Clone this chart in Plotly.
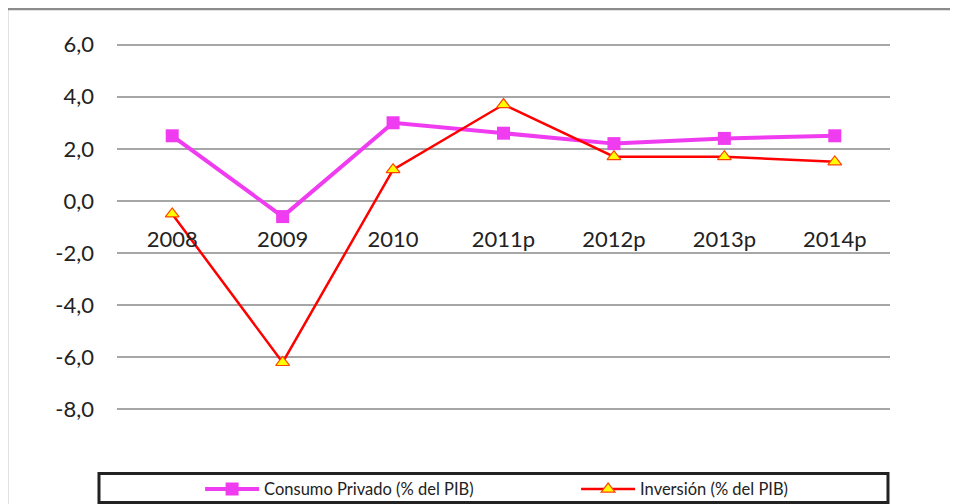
import plotly.graph_objects as go

categories = ["2008", "2009", "2010", "2011p", "2012p", "2013p", "2014p"]
consumo = [2.5, -0.6, 3.0, 2.6, 2.2, 2.4, 2.5]
inversion = [-0.5, -6.2, 1.2, 3.7, 1.7, 1.7, 1.5]
y_ticks = [6, 4, 2, 0, -2, -4, -6, -8]
y_ticklabels = ["6,0", "4,0", "2,0", "0,0", "-2,0", "-4,0", "-6,0", "-8,0"]

Y_MIN, Y_MAX = -8.1, 6.1

fig = go.Figure()
fig.add_trace(go.Scatter(
    x=categories, y=consumo, name="Consumo Privado (% del PIB)",
    mode="lines+markers",
    line=dict(color="#F03CF0", width=4),
    marker=dict(symbol="square", size=13, color="#F03CF0"),
))
fig.add_trace(go.Scatter(
    x=categories, y=inversion, name="Inversión (% del PIB)",
    mode="lines+markers",
    line=dict(color="#FF0000", width=2.5),
    marker=dict(symbol="triangle-up", size=12, color="#FFFF00",
                line=dict(color="#FF4400", width=1.2)),
))

fig.update_layout(
    width=950, height=496,
    margin=dict(l=109, r=68, t=34, b=92, autoexpand=False),
    paper_bgcolor="white", plot_bgcolor="white",
    font=dict(family="Lato", color="#222222"),
    showlegend=True,
    legend=dict(
        orientation="h", x=0.1075, xanchor="left", y=-0.209, yanchor="middle",
        font=dict(family="Lato", size=16.5, color="#222222"),
        bgcolor="rgba(0,0,0,0)", borderwidth=0,
        itemwidth=54, entrywidth=307,
    ),
    xaxis=dict(
        type="category", categoryorder="array", categoryarray=categories,
        anchor="free", position=(0 - Y_MIN) / (Y_MAX - Y_MIN),
        showline=False, showgrid=False, zeroline=False, ticks="",
        ticklabelstandoff=23,
        tickfont=dict(family="Lato", size=22, color="#222222"),
        range=[-0.5, len(categories) - 0.5],
    ),
    yaxis=dict(
        range=[Y_MIN, Y_MAX], tickvals=y_ticks, ticktext=y_ticklabels,
        showgrid=True, gridcolor="#A6A6A6", gridwidth=1.5,
        zeroline=True, zerolinecolor="#A6A6A6", zerolinewidth=1.5,
        showline=False, ticks="", ticklabelstandoff=22,
        tickfont=dict(family="Lato", size=22, color="#222222"),
    ),
    shapes=[
        dict(type="rect", xref="paper", yref="paper",
             x0=-0.1423, x1=1.2, y0=-0.5, y1=1.0893,
             line=dict(color="#8C8C8C", width=2.5), fillcolor="rgba(0,0,0,0)",
             layer="below"),
        dict(type="rect", xref="paper", yref="paper",
             x0=-0.0233, x1=0.9974, y0=-0.2446, y1=-0.166,
             line=dict(color="#222222", width=3), fillcolor="rgba(0,0,0,0)"),
    ],
)

fig.write_html("out.html")
